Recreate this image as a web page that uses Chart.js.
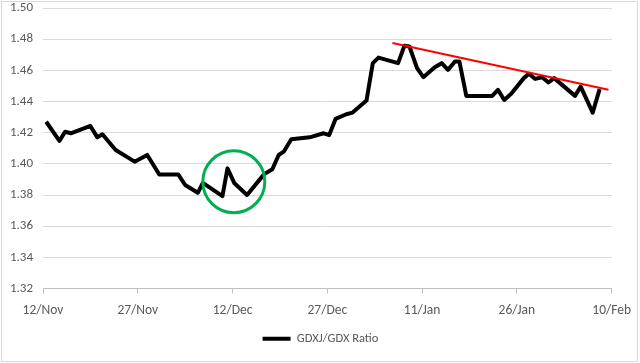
<!DOCTYPE html>
<html>
<head>
<meta charset="utf-8">
<script src="https://cdn.jsdelivr.net/npm/chart.js@4/dist/chart.umd.min.js"></script>
<style>
  html, body { margin: 0; padding: 0; background: #fff; }
  #wrap { width: 640px; height: 363px; }
</style>
</head>
<body>
<div id="wrap"><canvas id="ratioChart" width="640" height="363"></canvas></div>
<script>
// days after 12/Nov
const dayOffsets = [0.5, 2.6, 3.5, 4.4, 7.5, 8.6, 9.4, 11.5, 14.5, 16.5, 18.4, 21.4, 22.5, 24.5, 25.3,
  28.4, 29.2, 30.3, 32.3, 35.0, 36.3, 37.3, 38.1, 39.3, 42.2, 44.4, 45.3, 46.3, 48.0, 49.0,
  51.2, 52.2, 53.1, 56.2, 57.2, 58.0, 59.2, 60.2, 62.0, 63.1, 64.1, 65.2, 65.9, 67.0, 71.1,
  72.0, 73.0, 74.1, 76.1, 76.9, 77.9, 79.0, 80.0, 80.9, 84.2, 85.1, 87.0, 88.1];
const ratioValues = [1.427, 1.4147, 1.4206, 1.4196, 1.4243, 1.417, 1.419, 1.4089, 1.4014, 1.4057, 1.3932, 1.3932, 1.3864, 1.3814, 1.3878,
  1.3793, 1.3971, 1.3875, 1.380, 1.3934, 1.3965, 1.4057, 1.4078, 1.4158, 1.4170, 1.4196, 1.4185, 1.4288, 1.4318, 1.4329,
  1.4406, 1.4646, 1.4682, 1.4646, 1.4758, 1.4753, 1.4614, 1.4556, 1.4620, 1.4646, 1.4603, 1.4657, 1.4657, 1.4436, 1.4436,
  1.4475, 1.4410, 1.4449, 1.4550, 1.4578, 1.4545, 1.4556, 1.4522, 1.4550, 1.4436, 1.4496, 1.4329, 1.4479];

const trendDays = [55.3, 89.5];
const trendValues = [1.4775, 1.4475];

const tickLabels = ['12/Nov', '27/Nov', '12/Dec', '27/Dec', '11/Jan', '26/Jan', '10/Feb'];
const highlight = { day: 30.2, value: 1.3885 };

const toPoints = (xs, ys) => xs.map((d, i) => ({ x: d, y: ys[i] }));

Chart.defaults.font.family = 'Calibri, Carlito, Lato, sans-serif';
Chart.defaults.color = '#595959';

const frame = {
  id: 'frame',
  beforeDraw(chart) {
    const ctx = chart.ctx;
    ctx.save();
    ctx.fillStyle = '#fff';
    ctx.fillRect(0, 0, chart.width, chart.height);
    ctx.strokeStyle = '#d9d9d9';
    ctx.lineWidth = 1;
    ctx.strokeRect(1.5, 1.5, chart.width - 4, chart.height - 3);
    ctx.restore();
  }
};

// legend sits centred on the whole picture, not just the plot width
const legendShift = {
  id: 'legendShift',
  afterLayout(chart) {
    chart.legend.left += 11;
    chart.legend.right += 11;
  }
};

const circleMark = {
  id: 'circleMark',
  afterDatasetsDraw(chart) {
    const { ctx, scales: { x, y } } = chart;
    ctx.save();
    ctx.strokeStyle = '#00b050';
    ctx.lineWidth = 3;
    ctx.beginPath();
    ctx.arc(x.getPixelForValue(highlight.day), y.getPixelForValue(highlight.value), 31, 0, Math.PI * 2);
    ctx.stroke();
    ctx.restore();
  }
};

new Chart(document.getElementById('ratioChart'), {
  type: 'line',
  data: {
    datasets: [{
      label: 'trend',
      data: toPoints(trendDays, trendValues),
      borderColor: '#ff0000',
      borderWidth: 2,
      pointRadius: 0,
      order: 0
    }, {
      label: 'GDXJ/GDX Ratio',
      data: toPoints(dayOffsets, ratioValues),
      borderColor: '#000',
      backgroundColor: '#000',
      borderWidth: 4,
      borderJoinStyle: 'round',
      pointRadius: 0,
      tension: 0,
      order: 1
    }]
  },
  options: {
    responsive: false,
    animation: false,
    layout: { padding: { top: 0, right: 21, bottom: 8, left: 0 } },
    plugins: {
      tooltip: { enabled: false },
      legend: {
        position: 'bottom',
        labels: {
          filter: item => item.text !== 'trend',
          usePointStyle: true,
          pointStyle: 'line',
          pointStyleWidth: 28,
          padding: 8,
          color: '#595959',
          font: { size: 12.5 }
        }
      }
    },
    scales: {
      x: {
        type: 'linear',
        min: 0,
        max: 90,
        afterFit: s => { s.height = 36; },
        ticks: {
          stepSize: 15,
          autoSkip: false,
          maxRotation: 0,
          padding: 9,
          font: { size: 13.5 },
          callback: v => tickLabels[Math.round(v / 15)]
        },
        grid: { drawOnChartArea: false, tickLength: 5, color: '#bfbfbf' },
        border: { color: '#bfbfbf' }
      },
      y: {
        min: 1.32,
        max: 1.50,
        afterFit: s => { s.width = 43; s.paddingTop = 8; s.paddingBottom = 0; },
        ticks: {
          stepSize: 0.02,
          padding: 10,
          font: { size: 13 },
          callback: v => v.toFixed(2)
        },
        grid: { color: '#d9d9d9', drawTicks: false },
        border: { display: false }
      }
    }
  },
  plugins: [frame, legendShift, circleMark]
});
</script>
</body>
</html>
